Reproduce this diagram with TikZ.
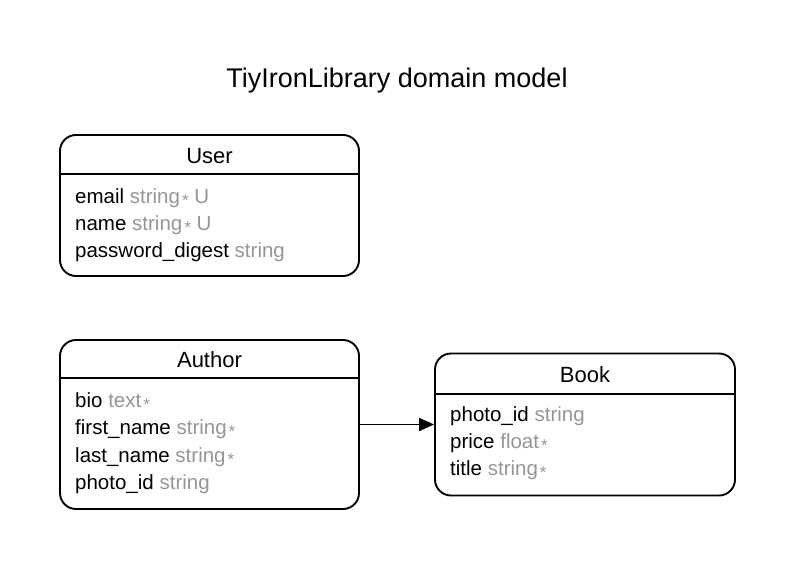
\documentclass[tikz,border=0pt]{standalone}
\usepackage{fontspec}
\setmainfont{Liberation Sans}
\usetikzlibrary{arrows.meta}
\definecolor{typegray}{RGB}{150,150,150}
\newcommand{\req}{\hspace{2pt}\raisebox{-3.5pt}{\fontsize{17}{17}\selectfont *}}
\newcommand{\ty}[1]{\textcolor{typegray}{#1}}
\tikzset{
  entity/.style={draw, line width=1.9pt, rounded corners=16pt, inner sep=0pt},
  head/.style={anchor=base, inner sep=0pt, font=\fontsize{22}{26}\selectfont},
  field/.style={anchor=base west, inner sep=0pt, font=\fontsize{20.5}{24}\selectfont},
  sep/.style={line width=1.9pt},
  rel/.style={line width=1.9pt, -{Triangle[length=15pt,width=13pt]}}
}
\begin{document}
\begin{tikzpicture}[x=1pt, y=-1pt]
\useasboundingbox (0,0) rectangle (795,570);
\node[anchor=base, inner sep=0pt, font=\fontsize{27}{30}\selectfont] (title) at (397,87) {TiyIronLibrary domain model};

% User
\node[entity, minimum width=299pt, minimum height=141pt] (user) at (209.5,205.5) {};
\draw[sep] (user.west |- 0,174) -- (user.east |- 0,174);
\node[head] (userh) at (209.5,163) {User};
\node[field] (u1) at (75,203) {email \ty{string}\ty{\req} \ty{U}};
\node[field] (u2) at (75,230) {name \ty{string}\ty{\req} \ty{U}};
\node[field] (u3) at (75,257) {password\_digest \ty{string}};

% Author
\node[entity, minimum width=299pt, minimum height=169pt] (author) at (209.5,424.5) {};
\draw[sep] (author.west |- 0,378) -- (author.east |- 0,378);
\node[head] (authorh) at (209.5,367) {Author};
\node[field] (a1) at (75,407) {bio \ty{text}\ty{\req}};
\node[field] (a2) at (75,434) {first\_name \ty{string}\ty{\req}};
\node[field] (a3) at (75,462) {last\_name \ty{string}\ty{\req}};
\node[field] (a4) at (75,489) {photo\_id \ty{string}};

% Book
\node[entity, minimum width=300pt, minimum height=142pt] (book) at (585,424.5) {};
\draw[sep] (book.west |- 0,394) -- (book.east |- 0,394);
\node[head] (bookh) at (585,382) {Book};
\node[field] (b1) at (450,421) {photo\_id \ty{string}};
\node[field] (b2) at (450,448) {price \ty{float}\ty{\req}};
\node[field] (b3) at (450,475) {title \ty{string}\ty{\req}};

\draw[rel] (author.east) -- (book.west);
\end{tikzpicture}
\end{document}
